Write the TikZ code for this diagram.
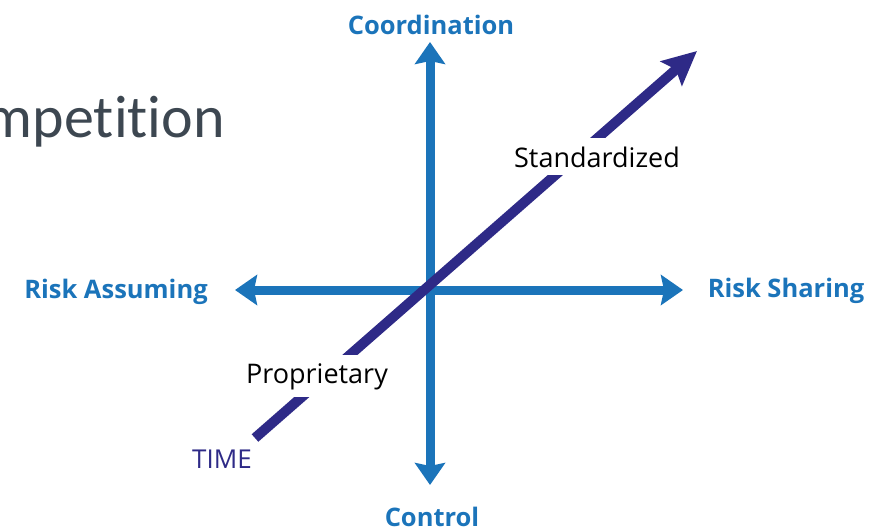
\documentclass[tikz,border=0pt]{standalone}
\usepackage{fontspec}
\setmainfont{Open Sans}
\newfontfamily\titlefont[Ligatures=NoCommon]{Carlito}
\usetikzlibrary{arrows.meta}
\definecolor{axisblue}{HTML}{1B74BA}
\definecolor{timepurple}{HTML}{2E2A87}
\definecolor{titlegray}{HTML}{3D4751}
\tikzset{
  axis/.style={draw=axisblue, line width=9pt,
    {Stealth[length=22pt,width=30pt,inset=3pt]}-{Stealth[length=22pt,width=30pt,inset=3pt]}},
  timearrow/.style={draw=timepurple, line width=10pt, line cap=butt,
    -{Stealth[length=34pt,width=32pt,inset=6pt]}},
  axislabel/.style={text=axisblue, font=\fontsize{25.5}{30}\selectfont\bfseries, anchor=base, inner sep=0pt},
  phaselabel/.style={text=black, font=\fontsize{27}{31}\selectfont, anchor=base, fill=white, inner xsep=3pt, inner ysep=8pt},
  timelabel/.style={text=timepurple, font=\fontsize{26}{30}\selectfont, anchor=base, inner sep=0pt},
}
\begin{document}
\begin{tikzpicture}[x=1pt,y=-1pt]
\useasboundingbox (0,0) rectangle (869,532);
% title fragment
\node[text=titlegray, font=\titlefont\fontsize{60}{70}\selectfont, anchor=base east, inner sep=0pt] (title) at (225,137) {mpetition};
% axes
\coordinate (top) at (430,42);
\coordinate (bottom) at (430,485);
\coordinate (left) at (235,290);
\coordinate (right) at (683,290);
\draw[axis] (bottom) -- (top);
\draw[axis] (left) -- (right);
% time arrow
\coordinate (tstart) at (255,438);
\coordinate (ttip) at (697,51);
\draw[timearrow] (tstart) -- (ttip);
% labels
\node[axislabel] (coord) at (431,35) {Coordination};
\node[axislabel] (control) at (432,526) {Control};
\node[axislabel] (assume) at (116,298) {Risk Assuming};
\node[axislabel] (share) at (786,297) {Risk Sharing};
\node[phaselabel] (prop) at (317,383) {Proprietary};
\node[phaselabel] (std) at (597,167) {Standardized};
\node[timelabel] (time) at (222,468) {TIME};
\end{tikzpicture}
\end{document}
